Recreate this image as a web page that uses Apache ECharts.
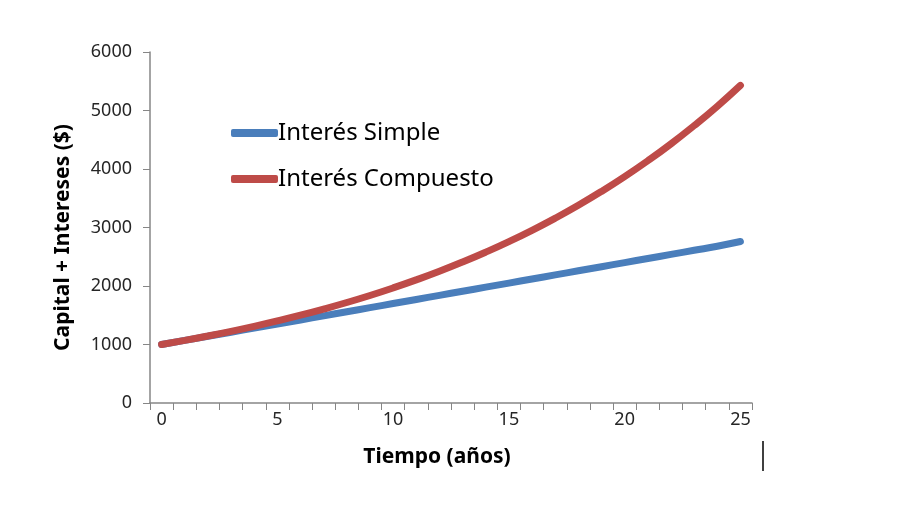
<!DOCTYPE html>
<html>
<head>
<meta charset="utf-8">
<script src="https://cdn.jsdelivr.net/npm/echarts@6/dist/echarts.min.js"></script>
<style>html,body{margin:0;padding:0;background:#fff}#c{width:910px;height:530px}</style>
</head>
<body>
<div id="c"></div>
<script>
var years = [0,1,2,3,4,5,6,7,8,9,10,11,12,13,14,15,16,17,18,19,20,21,22,23,24,25];
var xTickLabels = ['0','5','10','15','20','25'];
var yTicks = [0,1000,2000,3000,4000,5000,6000];
var simple = [1000,1070,1140,1210,1280,1350,1420,1490,1560,1630,1700,1770,1840,1910,1980,2050,2120,2190,2260,2330,2400,2470,2540,2610,2680,2760];
var compuesto = [1000,1070,1145,1225,1311,1403,1501,1606,1718,1838,1967,2105,2252,2410,2579,2759,2952,3159,3380,3617,3870,4141,4430,4741,5072,5430];

var chart = echarts.init(document.getElementById('c'));
var font = '"Noto Sans", "Open Sans", sans-serif';
chart.setOption({
  animation: false,
  textStyle: {fontFamily: font},
  grid: {left: 150, right: 158, top: 52, bottom: 127},
  legend: {
    orient: 'vertical', left: 226, top: 116, itemGap: 22,
    itemWidth: 47, itemHeight: 8,
    icon: 'roundRect',
    textStyle: {fontSize: 24, color: '#000', fontFamily: font, padding: [0,0,0,-5]},
    data: [
      {name: 'Interés Simple', itemStyle: {color: '#4a7ebb'}},
      {name: 'Interés Compuesto', itemStyle: {color: '#be4b48'}}
    ]
  },
  xAxis: {
    type: 'category', data: years, boundaryGap: true,
    name: 'Tiempo (años)', nameLocation: 'middle', nameGap: 44,
    nameTextStyle: {fontSize: 21, fontWeight: 'bold', color: '#000', padding: [0, 28, 0, 0]},
    axisLine: {lineStyle: {color: '#868686', width: 1.5}},
    axisTick: {show: true, interval: 0, length: 7, lineStyle: {color: '#868686'}},
    axisLabel: {
      interval: function (i, v) { return xTickLabels.indexOf(String(v)) >= 0; },
      fontSize: 18, color: '#262626', margin: 8
    },
    splitLine: {show: false}
  },
  yAxis: {
    type: 'value', min: 0, max: 6000, interval: 1000,
    name: 'Capital + Intereses ($)', nameLocation: 'middle', nameGap: 76,
    nameTextStyle: {fontSize: 21, fontWeight: 'bold', color: '#000', padding: [0, 20, 0, 0]},
    axisLine: {show: true, lineStyle: {color: '#868686', width: 1.5}},
    axisTick: {show: true, length: 7, lineStyle: {color: '#868686'}},
    axisLabel: {fontSize: 18, color: '#262626', margin: 18,
      formatter: function (v) { return yTicks.indexOf(v) >= 0 ? String(v) : ''; }},
    splitLine: {show: false}
  },
  series: [
    {name: 'Interés Simple', type: 'line', data: simple, smooth: true, showSymbol: false,
     lineStyle: {color: '#4a7ebb', width: 7, cap: 'round'}, itemStyle: {color: '#4a7ebb'}},
    {name: 'Interés Compuesto', type: 'line', data: compuesto, smooth: true, showSymbol: false,
     lineStyle: {color: '#be4b48', width: 7, cap: 'round'}, itemStyle: {color: '#be4b48'}}
  ],
  graphic: [
    {type: 'line', shape: {x1: 763, y1: 441, x2: 763, y2: 471}, style: {stroke: '#000', lineWidth: 1.5}}
  ]
});
</script>
</body>
</html>
